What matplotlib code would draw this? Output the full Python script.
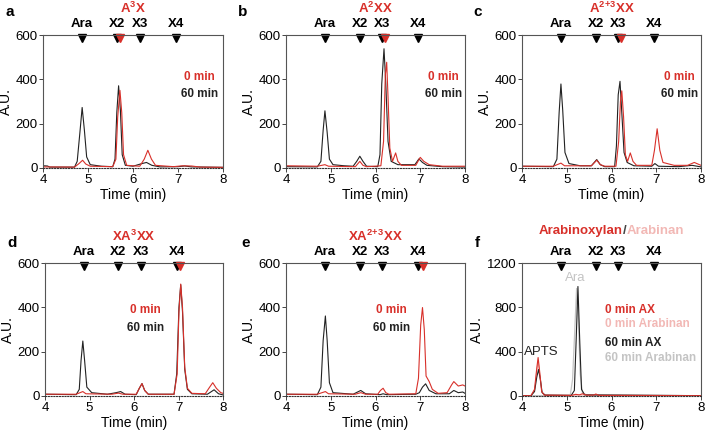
import matplotlib
matplotlib.use("Agg")
import matplotlib.pyplot as plt
import matplotlib.transforms as mtransforms

plt.rcParams["font.family"] = ["Liberation Sans", "DejaVu Sans"]
plt.rcParams["mathtext.fontset"] = "custom"
plt.rcParams["mathtext.rm"] = "Liberation Sans:bold"
plt.rcParams["mathtext.default"] = "regular"

RED = "#d8302a"
BLACK = "#222222"
PINK = "#f2b8b5"
GRAY = "#c4c4c4"

# standard positions (min)
std_names = ["Ara", "X2", "X3", "X4"]
std_times = [4.87, 5.65, 6.15, 6.96]

titles = ["A$^{3}$X", "A$^{2}$XX", "A$^{2\\!+\\!3}$XX", "XA$^{3}$XX", "XA$^{2\\!+\\!3}$XX"]
letters = ["a", "b", "c", "d", "e", "f"]
red_marks = [5.72, 6.22, 6.22, 7.04, 7.06]

# panel a, A3X
a_t60 = [4.0, 4.1, 4.15, 4.7, 4.76, 4.82, 4.87, 4.92, 4.97, 5.05, 5.3, 5.55, 5.6, 5.64, 5.68, 5.72,
         5.76, 5.83, 6.0, 6.2, 6.3, 6.42, 6.6, 7.0, 7.15, 7.3, 8.0]
a_y60 = [10, 9, 4, 4, 30, 160, 273, 170, 50, 15, 8, 6, 40, 250, 371, 260, 60, 12, 8, 20, 25, 12, 5,
         6, 9, 5, 3]
a_t0 = [4.0, 4.7, 4.8, 4.88, 4.95, 5.05, 5.55, 5.62, 5.66, 5.71, 5.75, 5.79, 5.86, 6.15, 6.25, 6.33,
        6.41, 6.5, 6.9, 7.1, 7.3, 7.5, 8.0]
a_y0 = [5, 4, 20, 35, 18, 8, 6, 40, 230, 350, 250, 60, 12, 8, 40, 80, 40, 12, 6, 10, 9, 4, 3]

# panel b, A2XX
b_t60 = [4.0, 4.7, 4.78, 4.83, 4.87, 4.92, 4.97, 5.05, 5.3, 5.5, 5.58, 5.65, 5.72, 5.8, 6.05, 6.1,
         6.14, 6.19, 6.23, 6.28, 6.35, 6.5, 6.88, 6.97, 7.05, 7.15, 7.5, 8.0]
b_y60 = [6, 5, 30, 170, 258, 160, 40, 15, 10, 8, 30, 53, 30, 8, 6, 60, 380, 538, 380, 120, 30, 15,
         15, 41, 25, 12, 6, 4]
b_t0 = [4.0, 4.7, 4.87, 4.95, 5.55, 5.65, 5.72, 5.8, 6.12, 6.18, 6.22, 6.25, 6.28, 6.32, 6.38, 6.45,
        6.5, 6.58, 6.9, 7.0, 7.08, 7.2, 7.5, 8.0]
b_y0 = [10, 8, 15, 8, 6, 30, 12, 6, 10, 120, 420, 477, 320, 90, 30, 68, 30, 12, 12, 48, 30, 15, 8, 8]

# panel c, A2+3XX
c_t60 = [4.0, 4.7, 4.78, 4.83, 4.87, 4.91, 4.96, 5.05, 5.3, 5.55, 5.67, 5.75, 5.85, 6.07, 6.11, 6.15,
         6.19, 6.23, 6.28, 6.35, 6.5, 6.9, 6.97, 7.05, 7.5, 7.8, 8.0]
c_y60 = [8, 6, 40, 250, 379, 260, 70, 20, 10, 10, 38, 15, 6, 6, 100, 330, 391, 250, 70, 25, 10, 8,
         20, 8, 6, 12, 5]
c_t0 = [4.0, 4.7, 4.87, 4.95, 5.55, 5.67, 5.75, 5.85, 6.1, 6.16, 6.2, 6.23, 6.27, 6.31, 6.36, 6.42,
        6.48, 6.56, 6.9, 6.96, 7.02, 7.08, 7.15, 7.4, 7.7, 7.85, 8.0]
c_y0 = [8, 8, 22, 10, 10, 35, 15, 8, 8, 120, 300, 348, 230, 60, 30, 68, 30, 12, 12, 80, 177, 80, 25,
        12, 12, 25, 12]

# panel d, XA3XX
d_t60 = [4.0, 4.7, 4.77, 4.81, 4.85, 4.89, 4.94, 5.05, 5.4, 5.6, 5.7, 5.8, 6.05, 6.12, 6.18, 6.24,
         6.32, 6.9, 6.96, 7.01, 7.05, 7.09, 7.14, 7.2, 7.3, 7.65, 7.8, 7.9, 8.0]
d_y60 = [8, 6, 30, 160, 248, 160, 40, 15, 8, 15, 20, 8, 6, 35, 56, 25, 8, 8, 100, 400, 502, 380, 120,
         30, 10, 8, 28, 10, 5]
d_t0 = [4.0, 4.7, 4.85, 4.92, 5.5, 5.65, 5.75, 6.05, 6.12, 6.18, 6.24, 6.32, 6.9, 6.97, 7.01, 7.05,
        7.09, 7.14, 7.2, 7.3, 7.6, 7.7, 7.77, 7.85, 7.95, 8.0]
d_y0 = [8, 8, 20, 10, 8, 13, 8, 8, 35, 56, 25, 8, 8, 100, 380, 505, 400, 130, 35, 12, 10, 40, 60, 35,
        15, 12]

# panel e, XA2+3XX
e_t60 = [4.0, 4.7, 4.78, 4.83, 4.88, 4.92, 4.97, 5.05, 5.5, 5.67, 5.78, 6.1, 6.17, 6.25, 6.9, 6.98,
         7.05, 7.12, 7.2, 7.35, 7.65, 7.75, 7.85, 7.95, 8.0]
e_y60 = [8, 6, 40, 250, 361, 250, 60, 15, 8, 25, 10, 6, 10, 6, 8, 15, 40, 55, 25, 10, 10, 25, 15, 18,
         12]
e_t0 = [4.0, 4.7, 4.88, 4.95, 5.55, 5.67, 5.78, 6.05, 6.11, 6.17, 6.23, 6.3, 6.9, 6.96, 7.01, 7.05,
        7.09, 7.13, 7.2, 7.27, 7.4, 7.6, 7.7, 7.75, 7.85, 7.95, 8.0]
e_y0 = [8, 8, 20, 10, 8, 15, 8, 8, 25, 35, 15, 8, 10, 80, 320, 399, 300, 90, 65, 30, 12, 15, 50, 65,
        45, 50, 45]

# panel f, arabinoxylan / arabinan
f_t0ax = [4.0, 4.2, 4.28, 4.33, 4.36, 4.4, 4.44, 4.5, 5.1, 5.2, 5.28, 5.35, 5.45, 5.6, 5.65, 5.72,
          6.2, 8.0]
f_y0ax = [2, 3, 60, 250, 347, 200, 40, 8, 5, 15, 10, 20, 8, 8, 18, 5, 5, 3]
f_t0an = [4.0, 4.2, 4.28, 4.33, 4.36, 4.4, 4.44, 4.5, 5.2, 5.65, 8.0]
f_y0an = [2, 3, 50, 220, 320, 180, 40, 8, 8, 10, 3]
f_t60ax = [4.0, 4.2, 4.28, 4.33, 4.37, 4.41, 4.45, 4.52, 5.1, 5.17, 5.21, 5.25, 5.29, 5.33, 5.4, 6.2,
           8.0]
f_y60ax = [2, 3, 40, 170, 239, 150, 30, 8, 5, 50, 500, 988, 500, 60, 10, 8, 3]
f_t60an = [4.0, 4.5, 5.08, 5.13, 5.18, 5.22, 5.26, 5.3, 5.35, 5.45, 8.0]
f_y60an = [2, 4, 10, 150, 600, 970, 700, 200, 30, 8, 3]

traces_60 = [(a_t60, a_y60), (b_t60, b_y60), (c_t60, c_y60), (d_t60, d_y60), (e_t60, e_y60)]
traces_0 = [(a_t0, a_y0), (b_t0, b_y0), (c_t0, c_y0), (d_t0, d_y0), (e_t0, e_y0)]
legend_xy = [(7.47, 409, 332), (7.51, 409, 332), (7.51, 409, 332), (6.25, 388, 307), (6.35, 388, 307)]

fig = plt.figure(figsize=(7.08, 4.37), dpi=100)
W, H = 708, 437

# axes boxes in pixels: left, top, right, bottom
boxes = [(43, 35, 223, 168), (286, 35, 465, 168), (522, 35, 701, 168),
         (45, 263, 223, 396), (286, 263, 465, 396), (522, 263, 701, 396)]
letter_px = [(10, 12), (243, 12), (478, 12), (12, 243), (246, 243), (477, 243)]

axes = []
for (l, t, r, b) in boxes:
    ax = fig.add_axes([l / W, 1 - b / H, (r - l) / W, (b - t) / H])
    axes.append(ax)


def style_axis(ax, ymax, yticks):
    ax.set_xlim(4, 8)
    ax.set_ylim(0, ymax)
    ax.set_xticks([4, 5, 6, 7, 8])
    ax.set_yticks(yticks)
    ax.tick_params(labelsize=9.5, length=3, width=0.7, color="#444444", pad=1)
    for s in ["top", "right", "left"]:
        ax.spines[s].set_color("#555555")
        ax.spines[s].set_linewidth(0.8)
    ax.spines["bottom"].set_linestyle((0, (1, 1.5)))
    ax.spines["bottom"].set_color("#333333")
    ax.set_xlabel("Time (min)", fontsize=10, labelpad=2)
    ax.set_ylabel("A.U.", fontsize=10, labelpad=2)


def add_markers(ax, red_x=None):
    trans = mtransforms.blended_transform_factory(ax.transData, ax.transAxes)
    ax.plot(std_times, [0.975] * len(std_times), "v", color="black", ms=6,
            transform=trans, clip_on=False)
    if red_x is not None:
        ax.plot([red_x], [0.975], "v", color=RED, ms=6, transform=trans, clip_on=False)
    for name, x in zip(std_names, std_times):
        ax.text(x, 1.04, name, transform=trans, ha="center", va="bottom",
                fontsize=9.5, fontweight="bold")


for i in range(5):
    ax = axes[i]
    style_axis(ax, 600, [0, 200, 400, 600])
    ax.plot(*traces_60[i], color=BLACK, lw=0.8)
    ax.plot(*traces_0[i], color=RED, lw=0.8)
    add_markers(ax, red_marks[i])
    lx, ly0, ly60 = legend_xy[i]
    ax.text(lx, ly0, "0 min", color=RED, fontsize=8.5, fontweight="bold", ha="center", va="center")
    ax.text(lx, ly60, "60 min", color=BLACK, fontsize=8.5, fontweight="bold", ha="center",
            va="center")
    ax.text(0.5, 1.2, titles[i], transform=ax.transAxes, color=RED, fontsize=9.5,
            fontweight="bold", ha="center", va="center")

# panel f
ax = axes[5]
style_axis(ax, 1200, [0, 400, 800, 1200])
ax.plot(f_t60an, f_y60an, color=GRAY, lw=0.9)
ax.plot(f_t0an, f_y0an, color=PINK, lw=0.8)
ax.plot(f_t60ax, f_y60ax, color=BLACK, lw=0.8)
ax.plot(f_t0ax, f_y0ax, color=RED, lw=0.8)
add_markers(ax)
f_legend = [("0 min AX", RED, 776), ("0 min Arabinan", PINK, 650),
            ("60 min AX", BLACK, 478), ("60 min Arabinan", GRAY, 343)]
for txt, col, y in f_legend:
    ax.text(5.85, y, txt, color=col, fontsize=8.5, fontweight="bold", ha="left", va="center")
ax.text(5.2, 1065, "Ara", color=GRAY, fontsize=9.5, ha="center", va="center")
ax.text(4.05, 400, "APTS", color=BLACK, fontsize=9.5, ha="left", va="center")
ax.annotate("/", (0.575, 1.24), xycoords="axes fraction", color="#444444", fontsize=9.5,
            fontweight="bold", ha="center", va="center")
ax.annotate("Arabinoxylan", (0.575, 1.24), xycoords="axes fraction", xytext=(-1.4, 0),
            textcoords="offset points", color=RED, fontsize=9.5, fontweight="bold",
            ha="right", va="center")
ax.annotate("Arabinan", (0.575, 1.24), xycoords="axes fraction", xytext=(1.4, 0),
            textcoords="offset points", color=PINK, fontsize=9.5, fontweight="bold",
            ha="left", va="center")

for lab, (px, py) in zip(letters, letter_px):
    fig.text(px / W, 1 - py / H, lab, fontsize=11, fontweight="bold", ha="center", va="center")

fig.savefig("out.png", dpi=100)
